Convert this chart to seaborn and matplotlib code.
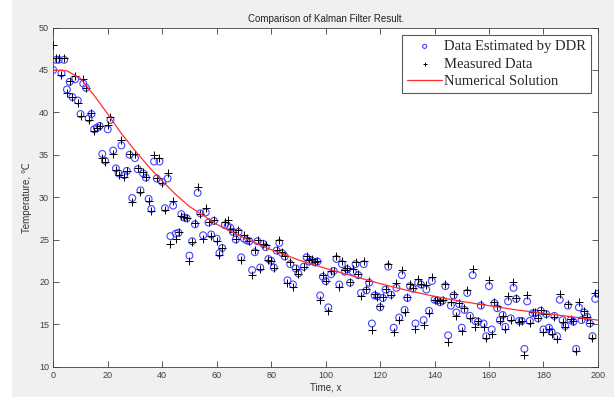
import matplotlib
matplotlib.use('Agg')
import matplotlib.pyplot as plt
from matplotlib.patches import Rectangle
import numpy as np
import pandas as pd
import seaborn as sns

sns.set_style('ticks')
plt.rcParams['font.family'] = ['Liberation Sans', 'DejaVu Sans']

# time steps (t=91 not visible)
time = [0, 1, 2, 3, 4, 5, 6, 7, 8, 9, 10, 11, 12, 13, 14, 15, 16, 17, 18, 19,
        20, 21, 22, 23, 24, 25, 26, 27, 28, 29, 30, 31, 32, 33, 34, 35, 36, 37, 38, 39,
        40, 41, 42, 43, 44, 45, 46, 47, 48, 49, 50, 51, 52, 53, 54, 55, 56, 57, 58, 59,
        60, 61, 62, 63, 64, 65, 66, 67, 68, 69, 70, 71, 72, 73, 74, 75, 76, 77, 78, 79,
        80, 81, 82, 83, 84, 85, 86, 87, 88, 89, 90, 92, 93, 94, 95, 96, 97, 98, 99,
        100, 101, 102, 103, 104, 105, 106, 107, 108, 109, 110, 111, 112, 113, 114, 115, 116, 117, 118, 119,
        120, 121, 122, 123, 124, 125, 126, 127, 128, 129, 130, 131, 132, 133, 134, 135, 136, 137, 138, 139,
        140, 141, 142, 143, 144, 145, 146, 147, 148, 149, 150, 151, 152, 153, 154, 155, 156, 157, 158, 159,
        160, 161, 162, 163, 164, 165, 166, 167, 168, 169, 170, 171, 172, 173, 174, 175, 176, 177, 178, 179,
        180, 181, 182, 183, 184, 185, 186, 187, 188, 189, 190, 191, 192, 193, 194, 195, 196, 197, 198, 199, 200]

estimated = [45.0, 46.2, 46.2, 44.6, 46.2, 42.7, 43.6, 41.8, 43.9, 41.4, 39.8, 43.4, 42.9, 39.3, 39.8, 38.0, 38.2, 38.4, 35.1, 34.3,
             38.0, 39.1, 35.5, 33.4, 32.8, 36.1, 32.6, 33.1, 35.0, 29.9, 34.6, 33.3, 30.8, 32.8, 32.3, 29.8, 28.6, 34.2, 32.2, 34.2,
             31.8, 28.7, 32.2, 25.4, 29.0, 25.7, 25.8, 28.0, 27.6, 27.5, 23.1, 24.8, 26.8, 30.5, 28.1, 25.5, 28.2, 27.0, 25.6, 27.2,
             25.1, 23.4, 24.0, 26.7, 26.6, 26.4, 25.9, 25.0, 25.9, 22.9, 25.1, 24.9, 24.8, 21.4, 23.5, 24.8, 21.7, 24.5, 24.1, 22.7,
             22.5, 21.7, 23.7, 24.6, 23.4, 23.0, 20.2, 22.1, 19.7, 21.6, 21.0, 21.8, 22.9, 22.4, 22.5, 22.3, 22.4, 18.4, 20.6,
             20.1, 17.0, 20.9, 21.3, 22.7, 19.7, 22.1, 21.2, 21.5, 19.9, 21.2, 22.1, 20.8, 18.7, 22.1, 19.0, 19.9, 15.1, 18.4, 18.3,
             17.0, 18.1, 19.1, 21.8, 18.5, 14.6, 19.3, 15.8, 20.8, 16.7, 18.1, 19.5, 19.2, 15.1, 19.9, 19.7, 15.5, 19.1, 16.6, 20.1,
             17.9, 17.8, 17.6, 17.8, 19.5, 13.7, 17.2, 18.4, 16.4, 17.4, 14.6, 16.7, 18.7, 16.0, 20.8, 15.4, 15.3, 17.2, 15.1, 13.6,
             19.5, 14.4, 17.5, 16.9, 15.5, 16.1, 14.7, 17.7, 15.7, 19.3, 18.0, 15.4, 15.4, 12.1, 17.7, 15.4, 16.3, 16.3, 15.7, 16.6,
             14.4, 16.2, 14.6, 14.1, 16.0, 13.6, 17.9, 15.5, 14.8, 17.2, 15.5, 15.3, 12.1, 17.0, 15.5, 16.4, 15.9, 15.1, 13.6, 18.0, 18.6]

measured = [47.9, 46.4, 46.4, 44.4, 46.4, 42.3, 43.7, 41.8, 44.3, 41.1, 39.6, 43.9, 42.9, 39.1, 39.9, 37.8, 38.1, 38.4, 34.6, 34.1,
            38.5, 39.4, 35.1, 33.2, 32.6, 36.7, 32.4, 33.1, 35.1, 29.4, 35.1, 33.4, 30.6, 33.0, 32.4, 29.5, 28.4, 35.0, 32.3, 34.6,
            31.7, 28.5, 32.8, 24.5, 29.6, 25.1, 25.9, 27.8, 27.6, 27.5, 22.5, 24.7, 26.9, 31.2, 28.0, 25.1, 28.7, 27.1, 25.4, 27.3,
            24.8, 23.2, 24.0, 27.1, 27.3, 26.2, 25.9, 25.1, 26.1, 22.6, 25.5, 25.2, 24.8, 20.8, 23.8, 25.0, 21.5, 24.5, 24.3, 22.6,
            22.5, 21.7, 23.8, 24.9, 23.5, 23.0, 19.9, 22.4, 19.4, 21.5, 20.9, 21.8, 23.1, 22.6, 22.7, 22.4, 22.5, 17.9, 20.8,
            20.1, 16.6, 21.3, 21.3, 23.0, 19.4, 22.5, 21.4, 21.6, 20.0, 21.5, 22.3, 20.9, 18.3, 22.5, 19.2, 20.1, 14.3, 18.6, 18.2,
            17.2, 18.2, 19.2, 22.1, 18.5, 14.1, 19.9, 15.5, 21.4, 16.5, 18.2, 19.7, 19.3, 14.5, 20.4, 19.8, 14.9, 19.6, 16.3, 20.6,
            17.9, 17.9, 17.7, 17.9, 19.8, 12.9, 17.6, 18.6, 16.0, 17.5, 14.2, 16.9, 19.0, 15.7, 21.5, 14.7, 15.4, 17.4, 14.7, 13.4,
            20.2, 13.8, 17.6, 17.2, 15.4, 16.0, 14.5, 18.3, 15.5, 20.0, 18.1, 15.3, 15.4, 11.4, 18.5, 15.1, 16.4, 16.4, 15.8, 16.7,
            14.1, 16.2, 14.4, 13.9, 15.9, 13.3, 18.6, 15.3, 14.7, 17.4, 15.6, 15.4, 11.8, 17.6, 15.7, 16.6, 15.9, 15.2, 13.4, 18.7, 18.7]

# numerical solution
sol_time = [0, 5, 10, 15, 20, 25, 30, 35, 40, 45, 50, 60, 70, 80, 90, 100,
            110, 120, 130, 140, 150, 160, 170, 180, 190, 200]
sol_temp = [45.0, 44.9, 44.0, 42.0, 39.8, 37.5, 35.5, 33.6, 31.9, 30.3, 28.9, 26.8, 25.2, 23.8, 22.6, 21.6,
            20.7, 19.8, 19.0, 18.3, 17.7, 17.2, 16.7, 16.3, 15.9, 15.5]

pts = pd.DataFrame({'t': time, 'est': estimated, 'meas': measured})
sol = pd.DataFrame({'t': sol_time, 'T': sol_temp})

fig = plt.figure(figsize=(6.14, 3.97), dpi=100, facecolor='#f0f0f0')
fig.patches.append(Rectangle((0, 0), 12 / 614, 1, transform=fig.transFigure,
                             facecolor='white', edgecolor='none', zorder=-1))
ax = fig.add_axes([0.0868, 0.0763, 0.887, 0.8542])
ax.set_facecolor('white')

sns.scatterplot(data=pts, x='t', y='est', ax=ax, marker='o', s=24,
                facecolor='none', edgecolor='#4545ff', linewidth=0.8,
                label='Data Estimated by DDR', zorder=2)
sns.scatterplot(data=pts, x='t', y='meas', ax=ax, marker='+', s=30,
                color='black', linewidth=0.7,
                label='Measured Data', zorder=3)
sns.lineplot(data=sol, x='t', y='T', ax=ax, color='#ff3030', linewidth=0.9,
             label='Numerical Solution', zorder=4)

ax.set_xlim(0, 200)
ax.set_ylim(10, 50)
ax.set_xticks(np.arange(0, 201, 20))
ax.set_yticks(np.arange(10, 51, 5))
ax.tick_params(direction='in', length=4, width=0.6, colors='#404040',
               labelsize=6.5, top=True, right=True, pad=3)
for sp in ax.spines.values():
    sp.set_color('#404040')
    sp.set_linewidth(0.6)

ax.set_title('Comparison of Kalman Filter Result.', fontsize=7, color='#222222', pad=4)
ax.set_xlabel('Time, x', fontsize=7, color='#333333', labelpad=2)
ax.set_ylabel('Temperature, \u2103', fontsize=7, color='#333333', labelpad=5)

leg = ax.legend(loc='upper right', frameon=True, fancybox=False, borderaxespad=0.5,
                prop={'family': 'Liberation Serif', 'size': 10.5}, markerscale=0.6,
                handlelength=2.4, handletextpad=0.1, borderpad=0.35, labelspacing=0.3)
leg.get_frame().set_edgecolor('#303030')
leg.get_frame().set_linewidth(0.8)

fig.savefig('out.png', dpi=100, facecolor=fig.get_facecolor())
